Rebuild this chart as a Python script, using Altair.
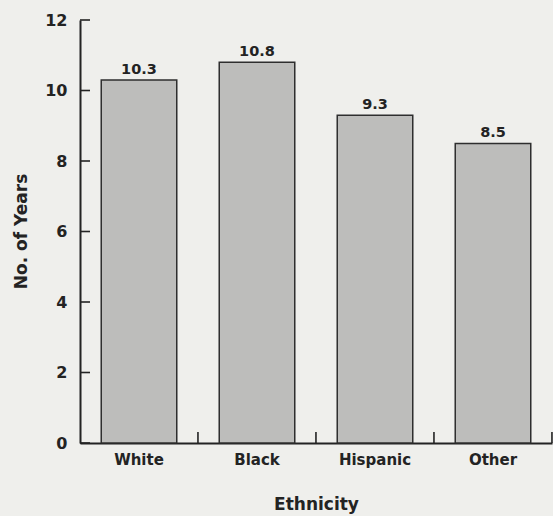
import altair as alt
import pandas as pd

categories = ["White", "Black", "Hispanic", "Other"]
values = [10.3, 10.8, 9.3, 8.5]
labels = ["10.3", "10.8", "9.3", "8.5"]
y_ticks = [0, 2, 4, 6, 8, 10, 12]

df = pd.DataFrame({"Ethnicity": categories, "Years": values, "Label": labels})
ticks_df = pd.DataFrame({"t": y_ticks})

FONT = "DejaVu Sans"
INK = "#232323"

xscale = alt.Scale(domain=categories, paddingInner=0.36, paddingOuter=0.18)
yscale = alt.Scale(domain=[0, 12], nice=False)

x_enc = alt.X(
    "Ethnicity:N",
    scale=xscale,
    sort=categories,
    axis=alt.Axis(
        title="Ethnicity",
        labelAngle=0,
        ticks=False,
        labelPadding=9,
        labelBaseline="top",
        labelFont=FONT,
        labelFontSize=15,
        labelFontWeight="bold",
        labelColor=INK,
        titleFont=FONT,
        titleFontSize=17,
        titleFontWeight="bold",
        titleColor=INK,
        titleY=66,
        titleBaseline="alphabetic",
        domainColor=INK,
        domainWidth=2,
    ),
)

y_enc = alt.Y(
    "Years:Q",
    scale=yscale,
    axis=alt.Axis(
        title="No. of Years",
        values=y_ticks,
        ticks=False,
        grid=False,
        labelPadding=13,
        labelFont=FONT,
        labelFontSize=16,
        labelFontWeight="bold",
        labelColor=INK,
        titleFont=FONT,
        titleFontSize=17,
        titleFontWeight="bold",
        titleColor=INK,
        titleAngle=-90,
        titleX=-59,
        titleY=211,
        titleAlign="center",
        titleBaseline="middle",
        domainColor=INK,
        domainWidth=2,
    ),
)

bars = alt.Chart(df).mark_bar(
    fill="#bdbdbb", stroke="#2e2e2e", strokeWidth=1.5
).encode(x=x_enc, y=y_enc)

text = alt.Chart(df).mark_text(
    baseline="alphabetic", dy=-6, font=FONT, fontSize=14.5, fontWeight="bold", color=INK
).encode(
    x=alt.X("Ethnicity:N", scale=xscale, sort=categories),
    y=alt.Y("Years:Q", scale=yscale),
    text="Label:N",
)

yticks = alt.Chart(ticks_df).mark_rule(color=INK, strokeWidth=1.6).encode(
    y=alt.Y("t:Q", scale=yscale),
    x=alt.value(0),
    x2=alt.value(10),
)

xticks = alt.Chart(df).mark_rule(color=INK, strokeWidth=1.6, xOffset=21.2).encode(
    x=alt.X("Ethnicity:N", scale=xscale, sort=categories, bandPosition=1),
    y=alt.value(423),
    y2=alt.value(412),
)

chart = alt.layer(bars, text, yticks, xticks).properties(
    width=472,
    height=423,
    autosize=alt.AutoSizeParams(type="none"),
    padding={"left": 80, "top": 20, "right": 1, "bottom": 73},
    background="#efefec",
).configure_view(stroke=None)

chart.save("out.html", embed_options={"renderer": "svg", "actions": False})
